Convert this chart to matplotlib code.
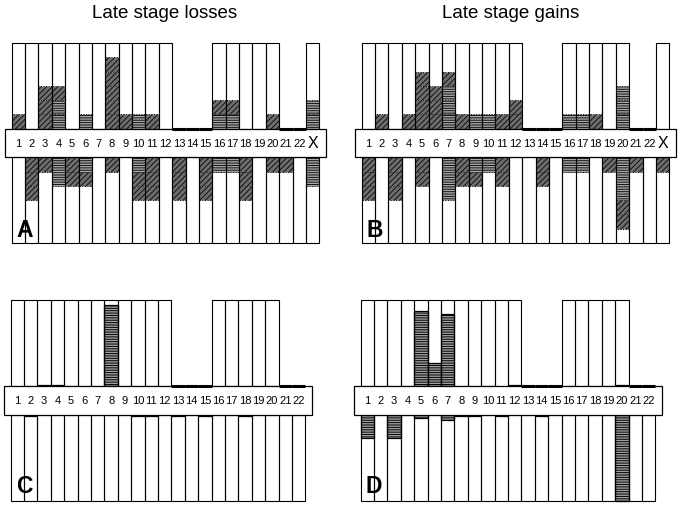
import numpy as np
import matplotlib.pyplot as plt
from matplotlib.patches import Rectangle

plt.rcParams['font.family'] = ['Liberation Sans', 'DejaVu Sans']
plt.rcParams['hatch.linewidth'] = 0.7

# chromosome labels
chrom_x = [str(i) for i in range(1, 23)] + ['X']
chrom = [str(i) for i in range(1, 23)]
no_p_arm = ['13', '14', '15', '21', '22']   # acrocentric: no upper column

# A/B: one block per event, listed from the centre box outwards
# h = hatched block, s = striped block
a_up = ['h', '', 'hhh', 'ssh', '', 's', '', 'hhhhh', 'h', 's', 'h', '',
        '', '', '', 'sh', 'sh', '', '', 'h', '', '', 'ss']
a_dn = ['', 'hhh', 'h', 'ss', 'hh', 'sh', '', 'h', '', 'shh', 'hhh', '',
        'hhh', '', 'hhh', 's', 's', 'hhh', '', 'h', 'h', '', 'ss']
b_up = ['', 'h', '', 'h', 'hhhh', 'hhh', 'sssh', 'h', 's', 's', 'h', 'hh',
        '', '', '', 's', 's', 'h', '', 'sss', '', '', '']
b_dn = ['hhh', '', 'hhh', '', 'hh', '', 'sss', 'hh', 'sh', 's', 'hh', '',
        '', 'hh', '', 's', 's', '', 'h', 'ssshh', 'h', '', 'h']

# C/D: continuous levels (in block units, column = 6)
c_up = [0, 0, 0.1, 0.1, 0, 0, 0, 5.65, 0, 0, 0, 0,
        0, 0, 0, 0, 0, 0, 0, 0, 0, 0]
c_dn = [0, 0.1, 0, 0, 0, 0, 0, 0, 0, 0.1, 0.1, 0,
        0.1, 0, 0.1, 0, 0, 0.1, 0, 0, 0, 0]
d_up = [0, 0, 0, 0, 5.25, 1.6, 5.05, 0, 0, 0, 0, 0.1,
        0, 0, 0, 0, 0, 0, 0, 0.1, 0, 0]
d_dn = [1.6, 0, 1.6, 0, 0.25, 0, 0.35, 0.1, 0.1, 0, 0.1, 0,
        0, 0.1, 0, 0, 0, 0, 0, 6, 0, 0]

ARM = 6

STYLE = {
    'h': dict(facecolor='#6e6e6e', hatch='//////', edgecolor='#111111', linewidth=0.7, linestyle=':'),
    's': dict(facecolor='#a6a6a6', hatch='-------', edgecolor='#111111', linewidth=0.7, linestyle=':'),
}
LEVEL = dict(facecolor='#a0a0a0', hatch='-------', edgecolor='black', linewidth=0.9)


def frame(ax, labels):
    n = len(labels)
    x = np.arange(1, n + 1)
    has_p = np.array([l not in no_p_arm for l in labels])
    ax.bar(x[has_p], ARM, bottom=1, width=1, color='white', zorder=1)
    ax.bar(x, -ARM, bottom=-1, width=1, color='white', zorder=1)
    ax.bar(x[has_p], ARM, bottom=1, width=1, fill=False, edgecolor='black', lw=0.8, zorder=3)
    ax.bar(x, -ARM, bottom=-1, width=1, fill=False, edgecolor='black', lw=0.8, zorder=3)
    for i in x[~has_p]:
        ax.hlines(1, i - 0.5, i + 0.5, color='black', lw=2.2, zorder=5)
    ax.add_patch(Rectangle((0, -1), n + 1, 2, facecolor='white', edgecolor='black', lw=0.9, zorder=4))
    for i, l in enumerate(labels):
        ax.text(i + 1, -0.05, l, ha='center', va='center', zorder=6,
                fontsize=11.5 if l == 'X' else 8)
    ax.set_xlim(0, n + 1)
    ax.set_ylim(-7, 7)
    ax.axis('off')


def blocks(ax, up, dn):
    for i, (u, d) in enumerate(zip(up, dn)):
        for k, c in enumerate(u):
            ax.bar(i + 1, 1, bottom=1 + k, width=1, zorder=2, **STYLE[c])
        for k, c in enumerate(d):
            ax.bar(i + 1, -1, bottom=-1 - k, width=1, zorder=2, **STYLE[c])


def levels(ax, up, dn):
    x = np.arange(1, len(up) + 1)
    up = np.array(up)
    dn = np.array(dn)
    ax.bar(x[up > 0], up[up > 0], bottom=1, width=1, zorder=2, **LEVEL)
    ax.bar(x[dn > 0], -dn[dn > 0], bottom=-1, width=1, zorder=2, **LEVEL)


def letter(ax, s, y):
    ax.text(1.5, y, s, ha='center', va='baseline', fontsize=16.5,
            fontweight='bold', zorder=7)


fig = plt.figure(figsize=(6.8, 5.05), dpi=100)
W, H = 680, 505

ax_a = fig.add_axes([5 / W, (H - 243) / H, 321 / W, 200 / H])
ax_b = fig.add_axes([355 / W, (H - 243) / H, 321 / W, 200 / H])
ax_c = fig.add_axes([4 / W, 4 / H, 308 / W, 201 / H])
ax_d = fig.add_axes([354 / W, 4 / H, 308 / W, 201 / H])

frame(ax_a, chrom_x)
blocks(ax_a, a_up, a_dn)
letter(ax_a, 'A', -6.6)

frame(ax_b, chrom_x)
blocks(ax_b, b_up, b_dn)
letter(ax_b, 'B', -6.6)

frame(ax_c, chrom)
levels(ax_c, c_up, c_dn)
letter(ax_c, 'C', -6.45)

frame(ax_d, chrom)
levels(ax_d, d_up, d_dn)
letter(ax_d, 'D', -6.45)

for ax in (ax_a, ax_b, ax_c, ax_d):
    for p in ax.patches:
        p.set_clip_on(False)
    for c in ax.collections:
        c.set_clip_on(False)

fig.text(165 / W, 1 - 18.5 / H, 'Late stage losses', ha='center', va='baseline', fontsize=13.5)
fig.text(511 / W, 1 - 18.5 / H, 'Late stage gains', ha='center', va='baseline', fontsize=13.5)

fig.savefig('out.png', dpi=100)
